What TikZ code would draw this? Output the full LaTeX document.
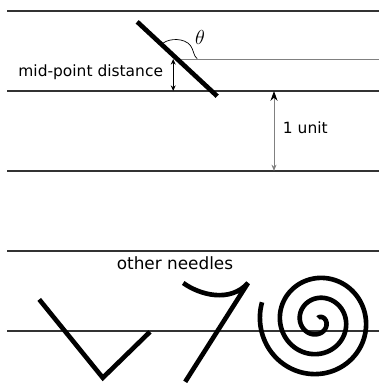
\documentclass[tikz,border=0pt]{standalone}
\usepackage{fontspec}
\setmainfont{DejaVu Sans}
\usepackage{tikz}
\usetikzlibrary{arrows.meta,positioning,calc}
\definecolor{floorgray}{HTML}{333333}
\definecolor{guidegray}{HTML}{808080}

\begin{document}
\begin{tikzpicture}[
    floor/.style={line width=1.4pt, draw=floorgray},
    needle/.style={line width=3.3pt, draw=black},
    guide/.style={line width=0.7pt, draw=guidegray},
    dimarrow/.style={line width=0.6pt, {Stealth[length=4pt,width=3.5pt]}-{Stealth[length=4pt,width=3.5pt]}},
    label/.style={font=\fontsize{11}{13}\selectfont}
]
\useasboundingbox (0,0) rectangle (9.475,9.575);

% Floor lines
\draw[floor] (0.175,9.3) -- (9.475,9.3);
\draw[floor] (0.175,7.3) -- (9.475,7.3);
\draw[floor] (0.175,5.3) -- (9.475,5.3);
\draw[floor] (0.175,3.3) -- (9.475,3.3);
\draw[floor] (0.175,1.3) -- (9.475,1.3);

% Dropped needle
\coordinate (mid) at (4.43,8.1);
\coordinate (guideend) at (9.475,8.1);
\draw[guide] (mid) -- (guideend);
\draw[needle] (3.43,9.03) -- (5.43,7.17);
\draw[line width=0.5pt] (4.08,8.5) .. controls (4.25,8.62) and (4.6,8.63) .. (4.76,8.44)
    .. controls (4.84,8.34) and (4.84,8.16) .. (4.93,8.11);
\node[font=\fontsize{14}{16}\selectfont] (thetalabel) at (5.0,8.65) {$\theta$};

% Mid-point distance
\coordinate (disttop) at (4.33,8.1);
\coordinate (distfoot) at (4.33,7.3);
\draw[dimarrow] (disttop) -- (distfoot);
\node[label, anchor=base east] (distlabel) at (4.2,7.65) {mid-point distance};

% Line spacing
\coordinate (unittop) at (6.85,7.3);
\coordinate (unitbot) at (6.85,5.3);
\draw[guide, {Stealth[length=4.5pt,width=3.5pt]}-{Stealth[length=7pt,width=5pt,color=black]}] (unitbot) -- (unittop);
\node[label, anchor=base west] (unitlabel) at (6.95,6.24) {1 unit};

% Other needles
\node[font=\fontsize{12}{14}\selectfont, anchor=base] (otherlabel) at (4.375,2.825) {other needles};
\draw[needle] (0.98,2.09) -- (2.57,0.13) -- (3.75,1.28);
\draw[needle, miter limit=2] (4.58,2.5) .. controls (5.0,2.2) and (5.75,2.0) .. (6.2,2.5) -- (4.63,0.03);
\draw[needle] plot[domain=161.5:1169, samples=400, smooth]
    ({7.95+(1.7-0.001389*\x)*cos(\x)}, {1.55+(1.7-0.001389*\x)*sin(\x)});

\end{tikzpicture}
\end{document}
